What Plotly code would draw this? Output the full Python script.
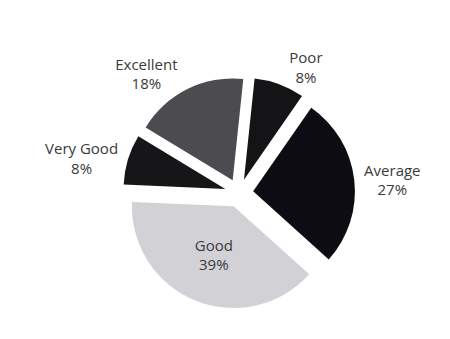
import plotly.graph_objects as go

labels = ["Poor", "Average", "Good", "Very Good", "Excellent"]
values = [8, 27, 39, 8, 18]
colors = ["#141416", "#0c0c12", "#d2d2d6", "#161618", "#4b4b50"]

fig = go.Figure(go.Pie(
    labels=labels,
    values=values,
    sort=False,
    direction="clockwise",
    rotation=6,
    pull=[0.14, 0.14, 0.14, 0.14, 0.14],
    marker=dict(colors=colors, line=dict(color="white", width=0)),
    texttemplate="%{label}<br>%{percent}",
    textposition=["outside", "outside", "inside", "outside", "outside"],
    insidetextorientation="horizontal",
    textfont=dict(family="Open Sans", size=15, color="#3a3a3a"),
    showlegend=False,
    hoverinfo="label+percent",
))

fig.update_layout(
    width=450, height=339,
    margin=dict(l=40, r=30, t=22, b=0),
    paper_bgcolor="white",
    plot_bgcolor="white",
)

fig.write_html("out.html")
